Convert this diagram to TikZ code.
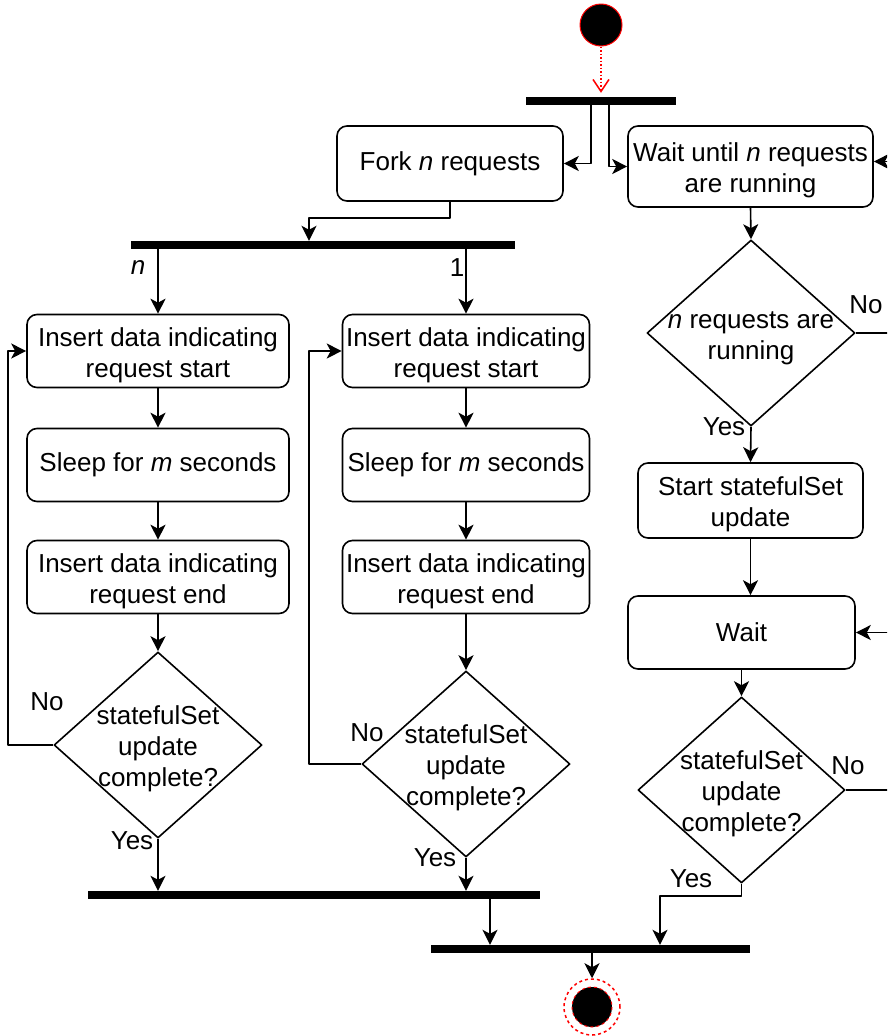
\documentclass[tikz,border=0pt]{standalone}
\usepackage{fontspec}
\setmainfont{Liberation Sans}
\usetikzlibrary{arrows.meta,shapes.geometric}
\newcommand{\lift}{\rule{0pt}{27pt}}

\begin{document}
\begin{tikzpicture}[x=1pt, y=-1pt, line join=round, font=\fontsize{26}{31}\selectfont,
		box/.style={draw, line width=1.6pt, rounded corners=10pt, align=center, inner sep=2pt},
		decision/.style={draw, diamond, line width=1.6pt, inner sep=0pt, minimum width=208pt, minimum height=186pt},
		every label/.style={align=center},
		bar/.style={fill=black, inner sep=0pt, minimum height=8pt},
		tip/.tip={Stealth[length=15pt, width=15pt, inset=4pt]},
		flow/.style={line width=1.6pt, -tip},
		lbl/.style={inner sep=1pt}]
			\useasboundingbox (0,0) rectangle (887,1036);
			\clip (0,0) rectangle (887,1036);
			
			\node[circle, fill=black, draw=red, line width=1pt, minimum size=42pt, inner sep=0pt] (s0) at (601,25) {};
			\node[bar, minimum width=150pt] (b1) at (601,101) {};
			\node[bar, minimum width=384pt] (b2) at (323,245) {};
			\node[bar, minimum width=452pt] (b3) at (314,895) {};
			\node[bar, minimum width=319pt] (b4) at (590.5,949) {};
			\node[circle, draw=red, dashed, line width=1.5pt, minimum size=56pt, inner sep=0pt] (e0) at (592,1007) {};
			\draw[red, dashed, line width=1pt, fill=black] (e0.center) circle (20);
			\draw[red, dotted, line width=1.5pt, -{Straight Barb[length=12pt, width=16pt]}, shorten >=4pt] (s0) -- (s0 |- b1.north);
			
			\node[box, minimum width=226pt, minimum height=75pt] (fk) at (450,163.5) {Fork \textit{n} requests};
			\node[box, minimum width=245pt, minimum height=81pt] (wt) at (750.5,166.5) {\lift Wait until \textit{n} requests\\are running};
			\draw[flow] ([xshift=-10pt]b1.south) |- (fk.east);
			\draw[flow] ([xshift=8pt]b1.south) |- (wt.west);
			\draw[flow] (fk.south) -- ++(0,16) -| ([xshift=-14pt]b2.north);
			
			\foreach \c/\x/\w/\dy/\lx in {l/158/262/745/8, m/466/247/764/309} {
				\node[box, minimum width=\w pt, minimum height=73pt] (\c1) at (\x,351) {\lift Insert data indicating\\request start};
				\node[box, minimum width=\w pt, minimum height=73pt] (\c2) at (\x,465) {Sleep for \textit{m} seconds};
				\node[box, minimum width=\w pt, minimum height=73pt] (\c3) at (\x,577) {\lift Insert data indicating\\request end};
				\node[decision, label={center:{\lift statefulSet\\update\\complete?}}] (\c4) at (\x,\dy) {};
				\draw[flow] (\c1.north |- b2.south) -- (\c1.north);
				\draw[flow] (\c1) -- (\c2);
				\draw[flow] (\c2) -- (\c3);
				\draw[flow] (\c3) -- (\c4);
				\draw[flow] (\c4.west) -- (\lx,\dy) |- (\c1.west);
				\draw[flow] (\c4.south) -- (\c4.south |- b3.north);
			}
			
			\node[decision, label={center:{\lift\textit{n} requests are\\running}}] (d1) at (751,333) {};
			\node[box, minimum width=225pt, minimum height=75pt] (st) at (750.5,500.5) {\lift Start statefulSet\\update};
			\node[box, minimum width=227pt, minimum height=73pt] (wa) at (741.5,632.5) {Wait};
			\node[decision, minimum width=207pt, label={center:{\lift statefulSet\\update\\complete?}}] (d2) at (741.5,790) {};
			\draw[flow] (wt.south) -- (d1.north);
			\draw[flow] (d1.south) -- (st.north);
			\draw[flow] (st.south) -- (st.south |- wa.north);
			\draw[flow] (wa.south) -- (d2.north);
			\draw[flow] (d1.east) -- ++(60,0) |- ([yshift=5pt]wt.east);
			\draw[flow] (d2.east) -- ++(60,0) |- (wa.east);
			\draw[flow] (d2.south) -- ++(0,12) -| ([xshift=69.5pt]b4.north);
			\draw[flow] ([xshift=176pt]b3.south) -- ([xshift=176pt]b3.south |- b4.north);
			\draw[flow] (e0.north |- b4.south) -- (e0.north);
			
			\node[lbl] (nl) at (138,268) {\textit{n}};
			\node[lbl] (one) at (457,268) {1};
			\node[lbl] (nol) at (47,702) {No};
			\node[lbl] (yesl) at (132,841) {Yes};
			\node[lbl] (nom) at (367,733) {No};
			\node[lbl] (yesm) at (435,858) {Yes};
			\node[lbl] (no1) at (866,305) {No};
			\node[lbl] (yes1) at (724,427) {Yes};
			\node[lbl] (no2) at (848,766) {No};
			\node[lbl] (yes2) at (691,879) {Yes};
		\end{tikzpicture}
\end{document}
